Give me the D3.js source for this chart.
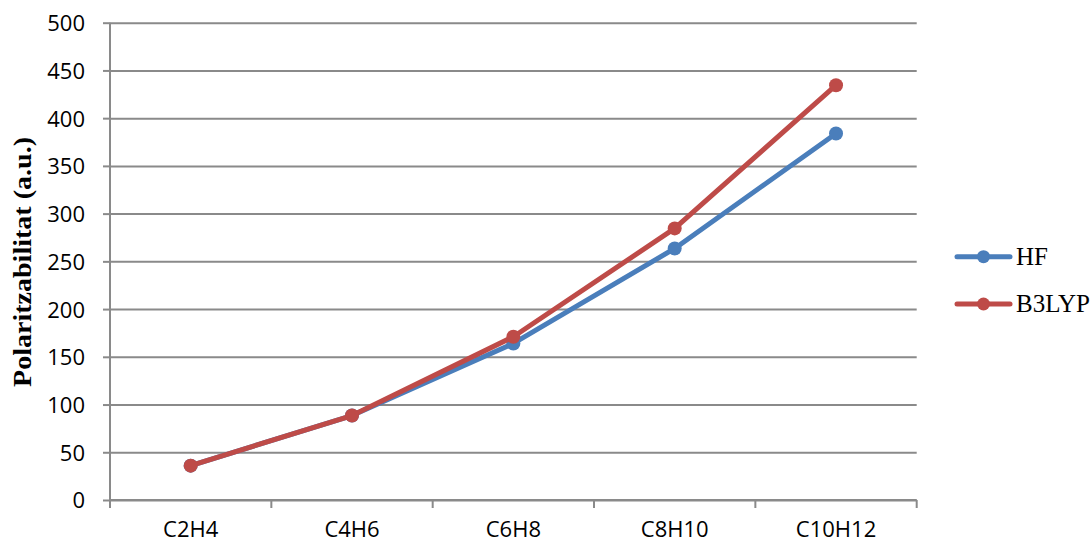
<!DOCTYPE html>
<html>
<head>
<meta charset="utf-8">
<script src="https://cdn.jsdelivr.net/npm/d3@7"></script>
<style>
  html, body { margin: 0; padding: 0; background: #fff; }
  svg { display: block; }
</style>
</head>
<body>
<svg id="chart" width="1091" height="544"></svg>
<script>
// Molecules along the x axis
const categories = ["C2H4", "C4H6", "C6H8", "C8H10", "C10H12"];
// Polarizability values (a.u.) for each method
const hfValues = [36, 88.5, 164, 263.5, 384];
const b3lypValues = [36, 88.5, 171, 284.5, 434.5];
// Y axis ticks
const yTicks = [0, 50, 100, 150, 200, 250, 300, 350, 400, 450, 500];

const series = [
  { name: "HF", values: hfValues, color: "#4A7EBB" },
  { name: "B3LYP", values: b3lypValues, color: "#BE4B48" }
];

const svg = d3.select("#chart");
const plotLeft = 110, plotRight = 916.7, plotTop = 22.7, plotBottom = 500;
const gridColor = "#8A8A8A";

const x = d3.scaleBand().domain(categories).range([plotLeft, plotRight]).paddingInner(0).paddingOuter(0);
const y = d3.scaleLinear().domain([0, 500]).range([plotBottom, plotTop]);

// Horizontal gridlines
const grid = svg.append("g")
  .attr("transform", `translate(${plotLeft},0)`)
  .call(d3.axisLeft(y).tickValues(yTicks).tickSize(-(plotRight - plotLeft)).tickFormat(""));
grid.select(".domain").remove();
grid.selectAll(".tick line").attr("stroke", gridColor).attr("stroke-width", 2);

// Y axis with outward ticks and labels
const yAxis = svg.append("g")
  .attr("transform", `translate(${plotLeft},0)`)
  .call(d3.axisLeft(y).tickValues(yTicks).tickSize(7).tickSizeOuter(0));
yAxis.select(".domain").attr("stroke", gridColor).attr("stroke-width", 2)
  .attr("d", `M0,${plotTop}V${plotBottom + 8}`);
yAxis.selectAll(".tick line").attr("stroke", gridColor).attr("stroke-width", 2);
yAxis.selectAll(".tick text")
  .attr("x", -25).attr("dy", "0.36em")
  .attr("fill", "#000")
  .style("font-family", "'Open Sans', sans-serif")
  .style("font-size", "22px");

// X axis: line, tick marks between categories, centered labels
const xAxis = svg.append("g")
  .attr("transform", `translate(0,${plotBottom})`)
  .call(d3.axisBottom(x).tickSize(0).tickSizeOuter(0));
xAxis.select(".domain").attr("stroke", gridColor).attr("stroke-width", 2)
  .attr("d", `M${plotLeft},0H${plotRight}`);
xAxis.selectAll(".tick text")
  .attr("y", 37).attr("dy", null)
  .attr("fill", "#000")
  .style("font-family", "'Open Sans', sans-serif")
  .style("font-size", "22px");
const boundaries = categories.map(c => x(c)).concat([x.range()[1]]);
xAxis.selectAll("line.sep").data(boundaries).join("line")
  .attr("class", "sep")
  .attr("x1", d => d).attr("x2", d => d)
  .attr("y1", 0).attr("y2", 8)
  .attr("stroke", gridColor).attr("stroke-width", 2);

// Y axis title
svg.append("text")
  .attr("transform", `translate(31,262) rotate(-90)`)
  .attr("text-anchor", "middle")
  .attr("textLength", 250)
  .attr("lengthAdjust", "spacingAndGlyphs")
  .style("font-family", "'Liberation Serif', serif")
  .style("font-weight", "bold")
  .style("font-size", "25px")
  .text("Polaritzabilitat (a.u.)");

// Series lines and markers
const cx = c => x(c) + x.bandwidth() / 2;
const line = d3.line().x((d, i) => cx(categories[i])).y(d => y(d));

series.forEach(s => {
  svg.append("path")
    .datum(s.values)
    .attr("d", line)
    .attr("fill", "none")
    .attr("stroke", s.color)
    .attr("stroke-width", 5)
    .attr("stroke-linejoin", "round")
    .attr("stroke-linecap", "round");
  svg.append("g").selectAll("circle").data(s.values).join("circle")
    .attr("cx", (d, i) => cx(categories[i]))
    .attr("cy", d => y(d))
    .attr("r", 7)
    .attr("fill", s.color);
});

// Legend
const legendY = [256.7, 304];
const legend = svg.append("g");
series.forEach((s, i) => {
  const g = legend.append("g").attr("transform", `translate(0,${legendY[i]})`);
  g.append("line")
    .attr("x1", 957).attr("x2", 1010).attr("y1", 0).attr("y2", 0)
    .attr("stroke", s.color).attr("stroke-width", 5)
    .attr("stroke-linecap", "round");
  g.append("circle").attr("cx", 983.5).attr("cy", 0).attr("r", 6.5).attr("fill", s.color);
  g.append("text")
    .attr("x", 1016).attr("y", 0).attr("dy", "0.33em")
    .style("font-family", "'Liberation Serif', serif")
    .style("font-size", "25px")
    .attr("fill", "#000")
    .text(s.name);
});
</script>
</body>
</html>
